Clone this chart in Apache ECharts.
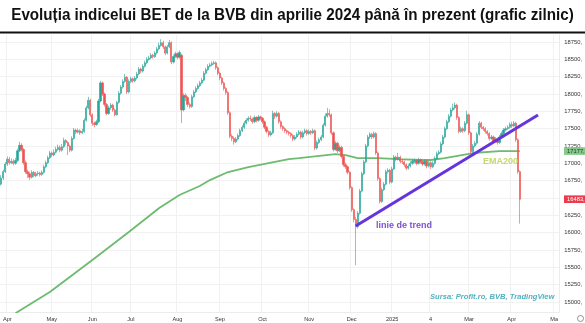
<!DOCTYPE html>
<html><head><meta charset="utf-8">
<script src="https://cdn.jsdelivr.net/npm/echarts@6/dist/echarts.min.js"></script>
<style>html,body{margin:0;padding:0;background:#fff}#c{width:585px;height:323px}</style>
</head><body><div id="c"></div>
<script>
// Daily candles BET: [open, close, low, high]
const candles = [
[16700,16790,16680,16830],[16790,16880,16760,16910],[16880,16990,16860,17020],[16990,17060,16960,17100],
[17060,17010,16980,17090],[17010,17030,16990,17070],[17030,17000,16970,17060],[17000,17040,16980,17080],
[17040,17180,17020,17210],[17180,17260,17160,17310],[17260,17200,17170,17290],[17200,17010,16980,17220],
[17010,16880,16850,17040],[16880,16850,16790,16910],[16850,16800,16760,16880],[16800,16870,16780,16900],
[16870,16820,16800,16890],[16820,16850,16800,16880],[16850,16860,16820,16890],[16860,16840,16810,16880],
[16840,16870,16820,16900],[16870,16950,16850,16980],[16950,17010,16930,17040],[17010,17080,16990,17110],
[17080,17150,17060,17180],[17150,17120,17090,17170],[17120,17160,17100,17200],[17160,17200,17140,17240],
[17200,17230,17180,17270],[17230,17190,17160,17260],[17190,17240,17170,17280],[17240,17330,17220,17370],
[17330,17300,17260,17350],[17300,17250,17120,17320],[17250,17190,17160,17270],[17190,17360,17170,17390],
[17360,17480,17340,17510],[17480,17450,17420,17500],[17450,17470,17430,17500],[17470,17440,17410,17490],
[17440,17460,17420,17500],[17460,17620,17440,17650],[17620,17800,17600,17830],[17800,17910,17780,17960],
[17910,17700,17670,17930],[17700,17580,17540,17720],[17580,17560,17520,17600],[17560,17600,17540,17630],
[17600,17900,17580,17930],[17900,18160,17880,18190],[18160,18000,17970,18180],[18000,17850,17820,18020],
[17850,17720,17690,17870],[17720,17800,17700,17830],[17800,17840,17770,17870],[17840,17770,17740,17860],
[17770,17700,17680,17790],[17700,17880,17690,17900],[17880,18010,17860,18040],[18010,18100,17990,18130],
[18100,18180,18080,18210],[18180,18240,18160,18290],[18240,18030,18000,18260],[18030,18180,18010,18210],
[18180,18220,18160,18250],[18220,18190,18160,18240],[18190,18230,18170,18260],[18230,18290,18210,18320],
[18290,18360,18270,18390],[18360,18330,18300,18380],[18330,18400,18310,18430],[18400,18450,18380,18480],
[18450,18500,18430,18530],[18500,18520,18480,18550],[18520,18560,18500,18590],[18560,18540,18510,18580],
[18540,18590,18520,18620],[18590,18650,18570,18680],[18650,18700,18630,18740],[18700,18740,18680,18790],
[18740,18680,18650,18770],[18680,18590,18560,18700],[18590,18680,18570,18710],[18680,18740,18660,18780],
[18740,18460,18430,18760],[18460,18540,18440,18570],[18540,18580,18520,18610],[18580,18530,18500,18600],
[18530,18600,18510,18630],[18560,17770,17580,18580],[17770,17980,17750,18010],[17980,17950,17900,18010],
[17950,17850,17810,17970],[17850,17820,17790,17880],[17820,17960,17800,17990],[17960,18030,17940,18060],
[18030,18080,18010,18110],[18080,18120,18060,18150],[18120,18160,18100,18190],[18160,18200,18140,18230],
[18200,18300,18180,18330],[18300,18350,18280,18380],[18350,18400,18330,18430],[18400,18420,18380,18450],
[18420,18440,18400,18470],[18440,18450,18420,18480],[18450,18380,18350,18470],[18380,18300,18270,18400],
[18300,18230,18200,18320],[18230,18160,18130,18250],[18160,18080,18050,18180],[18080,18020,17990,18100],
[18020,17730,17700,18040],[17730,17390,17360,17750],[17390,17360,17320,17420],[17360,17310,17270,17390],
[17310,17350,17290,17380],[17350,17400,17330,17430],[17400,17470,17380,17500],[17470,17520,17450,17550],
[17520,17580,17500,17610],[17580,17620,17560,17650],[17620,17650,17600,17680],[17650,17640,17610,17690],
[17640,17600,17570,17660],[17600,17660,17580,17690],[17660,17620,17590,17680],[17620,17670,17600,17700],
[17670,17650,17620,17690],[17650,17600,17570,17670],[17600,17520,17490,17620],[17520,17460,17430,17540],
[17460,17410,17380,17480],[17410,17440,17390,17470],[17440,17720,17420,17760],[17720,17680,17640,17740],
[17680,17720,17660,17750],[17720,17600,17570,17740],[17600,17530,17500,17620],[17530,17500,17470,17550],
[17500,17470,17440,17520],[17470,17450,17420,17490],[17450,17430,17400,17470],[17430,17400,17370,17450],
[17400,17350,17320,17420],[17350,17380,17330,17410],[17380,17420,17360,17450],[17420,17450,17400,17480],
[17450,17380,17350,17470],[17380,17440,17360,17470],[17440,17470,17420,17500],[17470,17430,17400,17490],
[17430,17460,17410,17490],[17460,17440,17410,17480],[17440,17470,17420,17500],[17470,17220,17190,17490],
[17220,17300,17200,17330],[17300,17340,17280,17370],[17340,17380,17320,17410],[17380,17550,17360,17580],
[17550,17680,17530,17720],[17680,17720,17660,17800],[17720,17700,17670,17780],[17700,17440,17410,17720],
[17440,17200,17170,17460],[17200,17290,17180,17320],[17290,17180,17150,17310],[17180,17230,17160,17260],
[17230,17100,17070,17250],[17100,16980,16950,17120],[16980,16950,16920,17010],[16950,16870,16840,16970],
[16870,16650,16620,16890],[16650,16330,16300,16670],[16330,16190,16150,16350],[16190,16090,15530,16230],
[16090,16280,16060,16310],[16280,16600,16260,16630],[16600,16850,16580,16880],[16850,17020,16830,17050],
[17020,17250,17000,17280],[17250,17380,17230,17410],[17380,17420,17350,17450],[17420,17380,17350,17440],
[17380,17430,17360,17460],[17430,17150,17120,17450],[17150,16780,16750,17170],[16780,16450,16420,16800],
[16450,16620,16430,16650],[16620,16700,16600,16730],[16700,16880,16680,16910],[16880,16900,16850,16930],
[16900,16730,16700,16920],[16730,16920,16710,16950],[16920,17090,16900,17120],[17090,17060,17030,17110],
[17060,17090,17040,17150],[17090,17030,17000,17110],[17030,17020,16990,17060],[17020,16980,16950,17040],
[16980,16930,16900,17000],[16930,16960,16910,16990],[16960,17000,16940,17030],[17000,17030,16980,17060],
[17030,17040,17000,17070],[17040,17000,16970,17060],[17000,17050,16980,17080],[17050,17020,16990,17070],
[17020,16990,16960,17040],[16990,17030,16970,17060],[17030,16960,16930,17050],[16960,17010,16940,17040],
[17010,16950,16920,17030],[16950,17000,16930,17030],[17000,17070,16980,17100],[17070,17140,17050,17170],
[17140,17160,17120,17190],[17160,17280,17140,17310],[17280,17380,17260,17410],[17380,17500,17360,17530],
[17500,17600,17480,17630],[17600,17680,17580,17710],[17680,17770,17660,17800],[17770,17800,17750,17860],
[17800,17840,17780,17880],[17840,17660,17630,17860],[17660,17460,17430,17680],[17460,17500,17440,17530],
[17500,17470,17440,17520],[17470,17580,17450,17610],[17580,17700,17560,17760],[17700,17440,17410,17720],
[17440,17170,17140,17460],[17170,17250,17150,17280],[17250,17290,17230,17320],[17290,17420,17270,17450],
[17420,17580,17400,17610],[17580,17520,17490,17600],[17520,17500,17470,17540],[17500,17460,17430,17520],
[17460,17430,17400,17480],[17430,17360,17330,17450],[17360,17380,17340,17410],[17380,17320,17290,17400],
[17320,17350,17300,17380],[17350,17300,17270,17370],[17300,17380,17280,17410],[17380,17430,17360,17460],
[17430,17480,17410,17510],[17480,17500,17460,17530],[17500,17520,17480,17550],[17520,17560,17500,17590],
[17560,17540,17510,17600],[17540,17580,17520,17610],[17580,17340,17310,17600],[17340,16880,16850,17360],
[16880,16483,16130,16900]
];
// EMA200 readings: [barIndex, value]
const ema200 = [
[0,14690],[8,14856],[24,15144],[45,15606],[63,16009],[78,16355],[88,16543],[98,16673],[103,16759],
[112,16875],[122,16947],[132,17004],[142,17062],[147,17076],[165,17134],[170,17120],[176,17076],
[186,17076],[196,17062],[207,17048],[212,17048],[219,17076],[233,17149],[246,17177],[256,17177]
];
// Trend line: [barIndex, value]
const trendLine = [[175,16096],[265,17697]];
// Axis ticks
const xTickIndex = [3,25,45,64,87,108,129,152,173,193,212,231,252,273];
const xTickLabels = ['Apr','May','Jun','Jul','Aug','Sep','Oct','Nov','Dec','2025','4','Mar','Apr','Ma'];
const yTickValues = [15000,15250,15500,15750,16000,16250,16500,16750,17000,17250,17500,17750,18000,18250,18500,18750];
const totalSlots = 276;

const cats = [];
for (let i = 0; i < totalSlots; i++) cats.push(String(i));
const FONT = "'Liberation Sans', Arial, sans-serif";
const chart = echarts.init(document.getElementById('c'), null, {renderer: 'canvas'});
const isTick = (i) => xTickIndex.indexOf(i) >= 0;
chart.setOption({
  animation: false,
  backgroundColor: '#fff',
  grid: {left: 0, right: 22, top: 35, bottom: 11, containLabel: false},
  xAxis: {
    type: 'category', data: cats, boundaryGap: true,
    axisLine: {show: true, lineStyle: {color: '#ececec'}},
    axisTick: {show: false},
    axisLabel: {
      interval: (i) => isTick(i), margin: 4,
      formatter: (v, i) => xTickLabels[xTickIndex.indexOf(Number(v))] || '',
      fontSize: 5.6, color: '#333', fontFamily: FONT
    },
    splitLine: {show: true, interval: (i) => isTick(i), lineStyle: {color: '#f1f1f1', width: 1}}
  },
  yAxis: {
    type: 'value', position: 'right', min: 14856, max: 18851, scale: true,
    axisLine: {show: true, lineStyle: {color: '#ececec'}},
    axisTick: {show: false, customValues: yTickValues},
    axisLabel: {customValues: yTickValues, margin: 5, fontSize: 5.8, color: '#333', fontFamily: FONT,
      formatter: (v) => v + ','},
    splitLine: {show: true, lineStyle: {color: '#f1f1f1', width: 1}}
  },
  series: [
    {type: 'line', data: ema200, showSymbol: false, smooth: false,
     lineStyle: {color: '#6dbb70', width: 1.8}, z: 3},
    {type: 'candlestick', data: candles, barWidth: 1.7, barMinWidth: 1.7,
     itemStyle: {color: '#26a69a', color0: '#ef5350', borderColor: '#26a69a', borderColor0: '#ef5350', borderWidth: 0.6}, z: 4},
    {type: 'line', data: trendLine, showSymbol: false,
     lineStyle: {color: '#6634dc', width: 3}, z: 5}
  ]
});

const lastClose = candles[candles.length - 1][1];
const lastEma = ema200[ema200.length - 1][1];
const yC = chart.convertToPixel({yAxisIndex: 0}, lastClose);
const yE = chart.convertToPixel({yAxisIndex: 0}, lastEma);
chart.setOption({
  graphic: [
    {type: 'text', x: 292.5, y: 16, scaleX: 0.95, z: 100,
     style: {text: 'Evoluția indicelui BET de la BVB din aprilie 2024 până în prezent (grafic zilnic)',
       font: "bold 16px " + FONT, fill: '#111', align: 'center', verticalAlign: 'middle'}},
    {type: 'line', z: 100, shape: {x1: 0, y1: 32.5, x2: 585, y2: 32.5}, style: {stroke: '#111', lineWidth: 2}},
    {type: 'rect', z: 100, shape: {x: 564, y: yE - 3.8, width: 21, height: 7.6}, style: {fill: '#86c98a'}},
    {type: 'text', z: 101, x: 567, y: yE, style: {text: lastEma + ',', font: "5.8px " + FONT, fill: '#1d3b1d', verticalAlign: 'middle'}},
    {type: 'rect', z: 100, shape: {x: 564, y: yC - 3.8, width: 21, height: 7.6}, style: {fill: '#ec3b4a'}},
    {type: 'text', z: 101, x: 567, y: yC, style: {text: lastClose + ',', font: "5.8px " + FONT, fill: '#fff', verticalAlign: 'middle'}},
    {type: 'text', z: 100, x: 376, y: 226, style: {text: 'linie de trend', font: "bold 9px " + FONT, fill: '#7e50d4', verticalAlign: 'middle'}},
    {type: 'text', z: 100, x: 483, y: 161.5, style: {text: 'EMA200', font: "bold 9px " + FONT, fill: '#c3d96b', verticalAlign: 'middle'}},
    {type: 'text', z: 100, x: 430, y: 297, style: {text: 'Sursa: Profit.ro, BVB, TradingView', font: "italic bold 7.6px " + FONT, fill: '#52b2c0', verticalAlign: 'middle'}},
    {type: 'circle', z: 100, shape: {cx: 580.5, cy: 318.5, r: 3}, style: {fill: 'none', stroke: '#777', lineWidth: 0.8}}
  ]
});
</script></body></html>
